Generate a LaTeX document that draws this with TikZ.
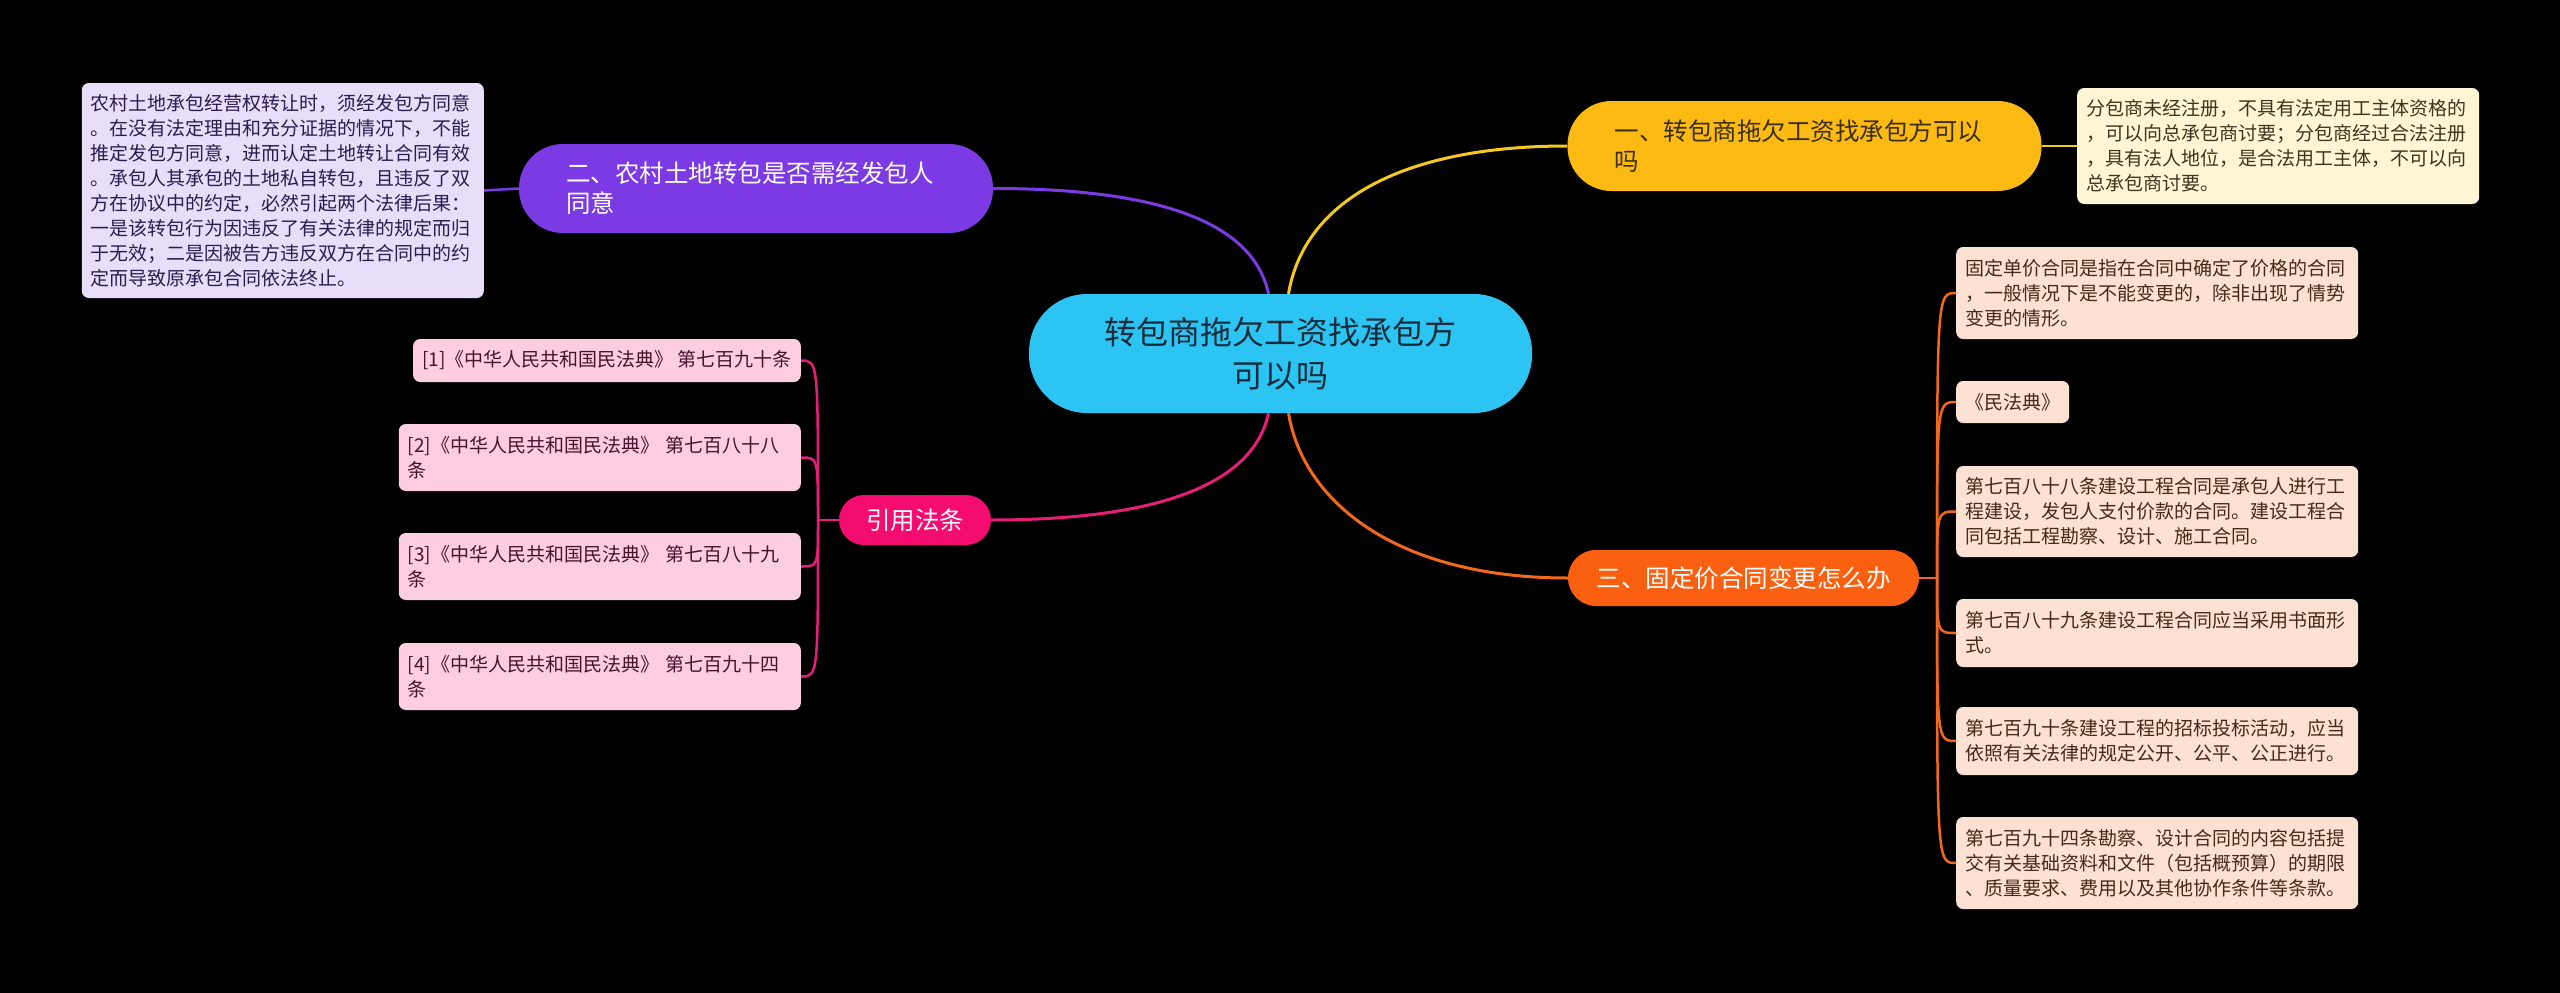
\documentclass[tikz,border=0pt]{standalone}
\usepackage{fontspec}
\setmainfont{Noto Sans CJK SC}
\definecolor{rootblue}{RGB}{44,196,242}
\definecolor{roottext}{RGB}{22,44,58}
\definecolor{amber}{RGB}{253,186,19}
\definecolor{amberline}{RGB}{246,200,30}
\definecolor{ambertext}{RGB}{58,46,12}
\definecolor{cream}{RGB}{255,246,214}
\definecolor{creamtext}{RGB}{62,52,30}
\definecolor{violet}{RGB}{124,58,228}
\definecolor{lavender}{RGB}{232,222,250}
\definecolor{lavtext}{RGB}{44,28,78}
\definecolor{rose}{RGB}{245,12,112}
\definecolor{roseline}{RGB}{230,30,120}
\definecolor{blush}{RGB}{253,206,226}
\definecolor{blushtext}{RGB}{70,18,44}
\definecolor{tangerine}{RGB}{250,96,16}
\definecolor{tangline}{RGB}{242,104,28}
\definecolor{peach}{RGB}{253,225,210}
\definecolor{peachtext}{RGB}{72,40,24}

\begin{document}
\begin{tikzpicture}[x=1pt, y=-1pt,
    rootpill/.style={fill=rootblue, text=roottext, rounded corners=58pt, minimum width=503pt, minimum height=119pt, inner sep=0pt, align=center, font=\fontsize{32}{43}\selectfont},
    mainpill/.style={rounded corners=44pt, minimum width=474pt, minimum height=89pt, inner sep=0pt, text width=380pt, align=left, font=\fontsize{24.5}{30}\selectfont},
    shortpill/.style={inner sep=0pt, text=white, font=\fontsize{24.5}{30}\selectfont},
    leaf/.style={rounded corners=7pt, inner xsep=9pt, inner ysep=0pt, align=left, font=\fontsize{19}{25}\selectfont},
    wideleaf/.style={leaf, text width=384pt},
    branch/.style={line width=3pt},
    twig/.style={line width=2.5pt}
  ]
    % Black page
    \path[fill=black, use as bounding box] (0,0) rectangle (2560,993);

    % Central topic
    \node[rootpill] (root) at (1280.5,353.5) {转包商拖欠工资找承包方\\可以吗};

    % Topic one (yellow)
    \node[mainpill, fill=amber, text=ambertext, minimum height=90pt] (one) at (1804.5,146) {一、转包商拖欠工资找承包方可以\\吗};
    \node[wideleaf, fill=cream, text=creamtext, anchor=west, minimum height=116pt] (onenote) at (2077,146) {分包商未经注册，不具有法定用工主体资格的\\，可以向总承包商讨要；分包商经过合法注册\\，具有法人地位，是合法用工主体，不可以向\\总承包商讨要。};

    % Topic two (purple)
    \node[mainpill, fill=violet, text=white] (two) at (756,188.5) {二、农村土地转包是否需经发包人\\同意};
    \node[wideleaf, fill=lavender, text=lavtext, anchor=east, minimum height=215pt] (twonote) at (484,190.5) {农村土地承包经营权转让时，须经发包方同意\\。在没有法定理由和充分证据的情况下，不能\\推定发包方同意，进而认定土地转让合同有效\\。承包人其承包的土地私自转包，且违反了双\\方在协议中的约定，必然引起两个法律后果：\\一是该转包行为因违反了有关法律的规定而归\\于无效；二是因被告方违反双方在合同中的约\\定而导致原承包合同依法终止。};

    % Cited articles (pink)
    \node[shortpill, fill=rose, rounded corners=25pt, minimum width=152pt, minimum height=50pt] (law) at (915,520) {引用法条};
    \node[leaf, fill=blush, text=blushtext, anchor=east, minimum height=43pt] (law1) at (801,360.5) {[1]《中华人民共和国民法典》 第七百九十条};
    \node[wideleaf, fill=blush, text=blushtext, anchor=east, minimum height=67pt] (law2) at (801,457.5) {[2]《中华人民共和国民法典》 第七百八十八\\条};
    \node[wideleaf, fill=blush, text=blushtext, anchor=east, minimum height=67pt] (law3) at (801,566.5) {[3]《中华人民共和国民法典》 第七百八十九\\条};
    \node[wideleaf, fill=blush, text=blushtext, anchor=east, minimum height=67pt] (law4) at (801,676.5) {[4]《中华人民共和国民法典》 第七百九十四\\条};
    \coordinate (lawhub) at (818,520);

    % Topic three (orange)
    \node[shortpill, fill=tangerine, rounded corners=28pt, minimum width=351pt, minimum height=56pt] (three) at (1743.5,578) {三、固定价合同变更怎么办};
    \node[wideleaf, fill=peach, text=peachtext, anchor=west, minimum height=92pt] (three1) at (1956,293) {固定单价合同是指在合同中确定了价格的合同\\，一般情况下是不能变更的，除非出现了情势\\变更的情形。};
    \node[leaf, fill=peach, text=peachtext, anchor=west, minimum height=42pt] (three2) at (1956,402) {《民法典》};
    \node[wideleaf, fill=peach, text=peachtext, anchor=west, minimum height=91pt] (three3) at (1956,511.5) {第七百八十八条建设工程合同是承包人进行工\\程建设，发包人支付价款的合同。建设工程合\\同包括工程勘察、设计、施工合同。};
    \node[wideleaf, fill=peach, text=peachtext, anchor=west, minimum height=68pt] (three4) at (1956,633) {第七百八十九条建设工程合同应当采用书面形\\式。};
    \node[wideleaf, fill=peach, text=peachtext, anchor=west, minimum height=68pt] (three5) at (1956,741) {第七百九十条建设工程的招标投标活动，应当\\依照有关法律的规定公开、公平、公正进行。};
    \node[wideleaf, fill=peach, text=peachtext, anchor=west, minimum height=92pt] (three6) at (1956,863) {第七百九十四条勘察、设计合同的内容包括提\\交有关基础资料和文件（包括概预算）的期限\\、质量要求、费用以及其他协作条件等条款。};
    \coordinate (threehub) at (1937,578);

    % Branches from the centre
    \draw[branch, amberline] ([xshift=8pt]root.north) .. controls +(15,-90) and +(-170,0) .. (one.west);
    \draw[branch, violet] ([xshift=-12pt]root.north) .. controls +(-15,-70) and +(170,0) .. (two.east);
    \draw[branch, roseline] ([xshift=-12pt]root.south) .. controls +(-15,70) and +(170,0) .. (law.east);
    \draw[branch, tangline] ([xshift=8pt]root.south) .. controls +(15,90) and +(-170,0) .. (three.west);

    % Twigs to the notes
    \draw[twig, amberline] (one.east) -- (onenote.west);
    \draw[twig, violet] (two.west) -- (twonote.east);
    \draw[twig, roseline] (law.west) -- (lawhub);
    \foreach \n in {law1,law2,law3,law4}
        \draw[twig, roseline] (lawhub) .. controls (lawhub |- \n.east) and (lawhub |- \n.east) .. (\n.east);
    \draw[twig, tangline] (three.east) -- (threehub);
    \foreach \n in {three1,three2,three3,three4,three5,three6}
        \draw[twig, tangline] (threehub) .. controls (threehub |- \n.west) and (threehub |- \n.west) .. (\n.west);
\end{tikzpicture}
\end{document}
